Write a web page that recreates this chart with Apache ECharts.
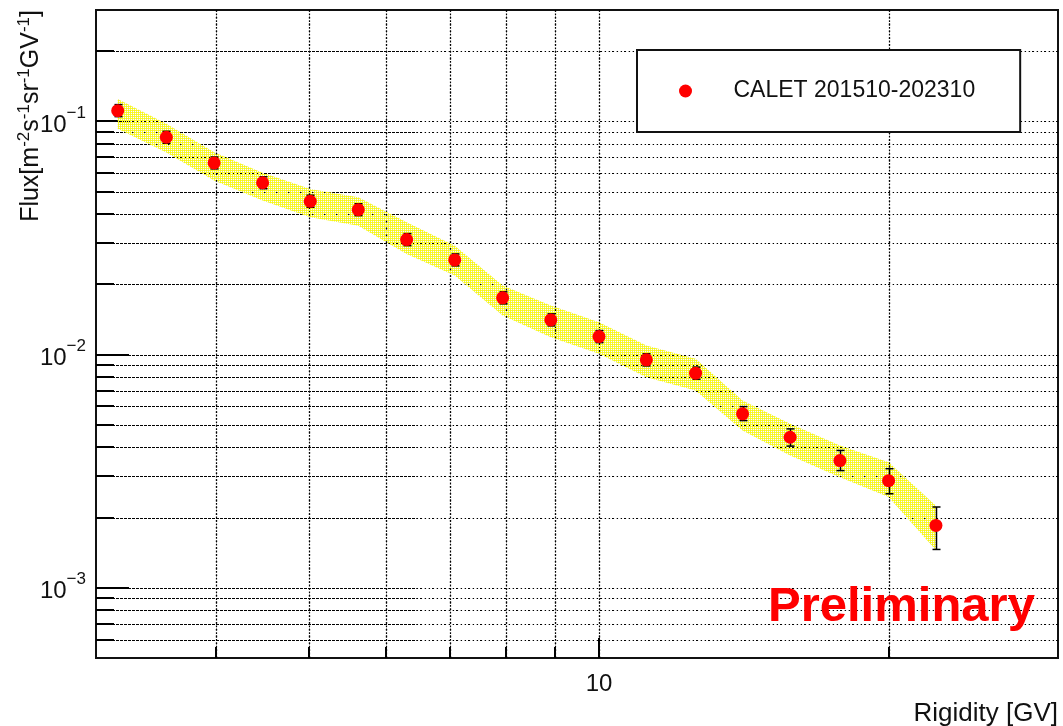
<!DOCTYPE html>
<html>
<head>
<meta charset="utf-8">
<script src="https://cdn.jsdelivr.net/npm/echarts@6/dist/echarts.min.js"></script>
<style>
  html, body { margin: 0; padding: 0; background: #fff; }
  #chart { width: 1063px; height: 726px; }
</style>
</head>
<body>
<div id="chart"></div>
<script>
// Rigidity bin centres [GV]
const rigidity = [3.16, 3.55, 3.98, 4.47, 5.01, 5.62, 6.31, 7.08, 7.94, 8.91, 10.0, 11.2, 12.6, 14.1, 15.8, 17.8, 20.0, 22.4];
// Flux [m^-2 s^-1 sr^-1 GV^-1]
const flux = [0.1111, 0.0854, 0.0663, 0.0545, 0.0454, 0.0418, 0.0311, 0.02545, 0.0175, 0.01408, 0.01194, 0.00949, 0.00832, 0.00557, 0.00442, 0.00351, 0.00288, 0.00185];
// statistical error bar ends
const statHigh = [0.1179, 0.0906, 0.0703, 0.0578, 0.0482, 0.0443, 0.0330, 0.0270, 0.01857, 0.01494, 0.01267, 0.01007, 0.00883, 0.00598, 0.00480, 0.00388, 0.00324, 0.00222];
const statLow = [0.1047, 0.0805, 0.0625, 0.0514, 0.0428, 0.0394, 0.0293, 0.0240, 0.01649, 0.01327, 0.01125, 0.00894, 0.00784, 0.00521, 0.00405, 0.00318, 0.00253, 0.00146];
// systematic uncertainty band edges
const sysHigh = [0.1247, 0.0977, 0.0736, 0.0601, 0.0513, 0.0472, 0.0369, 0.0293, 0.01976, 0.01622, 0.01375, 0.01093, 0.00959, 0.00635, 0.00505, 0.00407, 0.00345, 0.00225];
const sysLow = [0.0928, 0.0734, 0.0557, 0.0457, 0.0388, 0.0357, 0.0270, 0.0218, 0.01470, 0.01187, 0.01007, 0.00799, 0.00701, 0.00472, 0.00369, 0.00298, 0.00245, 0.00145];

// axis ranges and tick positions
const xRange = [3, 30];
const yRange = [5e-4, 0.3];
const xMajorTicks = [10];
const xMinorTicks = [4, 5, 6, 7, 8, 9, 20];
const yMajorTicks = [1e-3, 1e-2, 1e-1];
const yMinorTicks = [6e-4, 7e-4, 8e-4, 9e-4,
                     2e-3, 3e-3, 4e-3, 5e-3, 6e-3, 7e-3, 8e-3, 9e-3,
                     2e-2, 3e-2, 4e-2, 5e-2, 6e-2, 7e-2, 8e-2, 9e-2,
                     2e-1];

const seriesName = 'CALET 201510-202310';
const FONT = '"Liberation Sans", Arial, Helvetica, sans-serif';

// fine yellow hatch used for the systematic band (one open pixel per cell)
const hatch = document.createElement('canvas');
hatch.width = 2; hatch.height = 2;
const hctx = hatch.getContext('2d');
hctx.fillStyle = '#ffff00';
hctx.fillRect(0, 0, 1, 1);
hctx.fillStyle = '#efef55';
hctx.fillRect(1, 0, 1, 1);
hctx.fillRect(0, 1, 1, 1);

function isPow10(v) {
  const e = Math.log10(v);
  return Math.abs(e - Math.round(e)) < 1e-6;
}

// horizontal dotted grid line across the frame
function renderHGrid(params, api) {
  const cs = params.coordSys;
  const y = Math.round(api.coord([api.value(0), api.value(1)])[1]) + 0.5;
  const split = cs.x + cs.width / 3;
  return {
    type: 'group',
    children: [
      { type: 'line', shape: { x1: cs.x, y1: y, x2: split, y2: y },
        style: { stroke: '#000', lineWidth: 1, lineDash: [3, 1] } },
      { type: 'line', shape: { x1: split, y1: y, x2: cs.x + cs.width, y2: y },
        style: { stroke: '#000', lineWidth: 1.2, lineDash: [1.4, 2.6] } }
    ]
  };
}

// sparse dots of the horizontal grid that stay visible through the band
function renderHGridTop(params, api) {
  const cs = params.coordSys;
  const y = Math.round(api.coord([api.value(0), api.value(1)])[1]) + 0.5;
  return {
    type: 'line', shape: { x1: cs.x, y1: y, x2: cs.x + cs.width, y2: y },
    style: { stroke: '#000', lineWidth: 1.2, lineDash: [1.4, 10.6] }
  };
}

// vertical dotted grid line across the frame
function renderVGrid(params, api) {
  const cs = params.coordSys;
  const x = Math.round(api.coord([api.value(0), api.value(1)])[0]) + 0.5;
  return {
    type: 'line', shape: { x1: x, y1: cs.y, x2: x, y2: cs.y + cs.height },
    style: { stroke: '#000', lineWidth: 1.2, lineDash: [1.8, 1.6] }
  };
}

function renderVGridTop(params, api) {
  const cs = params.coordSys;
  const x = Math.round(api.coord([api.value(0), api.value(1)])[0]) + 0.5;
  return {
    type: 'line', shape: { x1: x, y1: cs.y, x2: x, y2: cs.y + cs.height },
    style: { stroke: '#000', lineWidth: 1.2, lineDash: [1.8, 5.0] }
  };
}

function yTickRenderer(len) {
  return function (params, api) {
    const cs = params.coordSys;
    const y = Math.round(api.coord([api.value(0), api.value(1)])[1]);
    return { type: 'line', shape: { x1: cs.x, y1: y, x2: cs.x + len, y2: y },
             style: { stroke: '#000', lineWidth: 2 } };
  };
}

function xTickRenderer(len) {
  return function (params, api) {
    const cs = params.coordSys;
    const x = Math.round(api.coord([api.value(0), api.value(1)])[0]);
    const yb = cs.y + cs.height;
    return { type: 'line', shape: { x1: x, y1: yb, x2: x, y2: yb - len },
             style: { stroke: '#000', lineWidth: 2 } };
  };
}

function guide(data, renderItem, z) {
  return { type: 'custom', data: data, renderItem: renderItem, z: z,
           silent: true, clip: false, animation: false };
}

// systematic band drawn as one polygon through all bins
function renderBand(params, api) {
  if (params.dataIndexInside !== 0) return null;
  const n = rigidity.length;
  const upper = [], lower = [];
  for (let i = 0; i < n; i++) {
    upper.push(api.coord([api.value(0, i), api.value(2, i)]));
    lower.push(api.coord([api.value(0, i), api.value(1, i)]));
  }
  return {
    type: 'polygon',
    shape: { points: upper.concat(lower.reverse()) },
    style: { fill: { image: hatch, repeat: 'repeat' } }
  };
}

// statistical error bars with end caps
function renderErr(params, api) {
  const lo = api.coord([api.value(0), api.value(1)]);
  const hi = api.coord([api.value(0), api.value(2)]);
  const x = Math.round(lo[0]) + 0.5;
  const cap = 4;
  const st = { stroke: '#000', lineWidth: 1.5 };
  return {
    type: 'group',
    children: [
      { type: 'line', shape: { x1: x, y1: lo[1], x2: x, y2: hi[1] }, style: st },
      { type: 'line', shape: { x1: x - cap, y1: lo[1], x2: x + cap, y2: lo[1] }, style: st },
      { type: 'line', shape: { x1: x - cap, y1: hi[1], x2: x + cap, y2: hi[1] }, style: st }
    ]
  };
}

const yGridData = yMajorTicks.concat(yMinorTicks).map(function (v) { return [xRange[0], v]; });
const xGridData = xMajorTicks.concat(xMinorTicks).map(function (v) { return [v, yRange[0]]; });

const chart = echarts.init(document.getElementById('chart'), null, { renderer: 'canvas' });

const option = {
  animation: false,
  backgroundColor: '#fff',
  grid: {
    left: 96, right: 5, top: 10, bottom: 68,
    show: true, borderColor: '#111', borderWidth: 2, backgroundColor: 'transparent',
    containLabel: false, outerBoundsMode: 'none'
  },
  legend: {
    left: 637, top: 50,
    padding: [29, 45, 29, 42],
    itemWidth: 86, itemHeight: 13,
    borderColor: '#111', borderWidth: 2, backgroundColor: '#fff',
    textStyle: { fontSize: 23, lineHeight: 24, color: '#111', fontFamily: FONT },
    data: [{ name: seriesName, icon: 'circle' }],
    selectedMode: false
  },
  xAxis: {
    type: 'log', logBase: 10, min: xRange[0], max: xRange[1],
    name: 'Rigidity [GV]', nameLocation: 'end', nameGap: 0, nameMoveOverlap: false,
    nameTextStyle: { fontSize: 26, color: '#111', fontFamily: FONT, align: 'right', verticalAlign: 'top', lineHeight: 26, padding: [43, 0, 0, 0] },
    axisLine: { show: false }, axisTick: { show: false }, splitLine: { show: false },
    axisLabel: {
      fontSize: 24, color: '#111', fontFamily: FONT, margin: 14,
      showMinLabel: true, showMaxLabel: true,
      formatter: function (v) { return isPow10(v) ? String(Math.round(v)) : ''; }
    }
  },
  yAxis: {
    type: 'log', logBase: 10, min: yRange[0], max: yRange[1],
    name: '{n|Flux[m}{s|-2}{n|s}{s|-1}{n|sr}{s|-1}{n|GV}{s|-1}{n|]}',
    nameLocation: 'end', nameGap: 0, nameRotate: 90, nameMoveOverlap: false,
    nameTextStyle: {
      align: 'right', verticalAlign: 'bottom', padding: [0, 0, 50, 0],
      rich: {
        n: { fontSize: 25, lineHeight: 30, color: '#111', fontFamily: FONT },
        s: { fontSize: 17, lineHeight: 17, color: '#111', fontFamily: FONT, verticalAlign: 'top' }
      }
    },
    axisLine: { show: false }, axisTick: { show: false }, splitLine: { show: false },
    axisLabel: {
      margin: 10, padding: [8, 0, 0, 0],
      showMinLabel: true, showMaxLabel: true,
      formatter: function (v) {
        if (!isPow10(v)) return '';
        const e = Math.round(Math.log10(v));
        return '{b|10}{s|' + (e < 0 ? '\u2212' + (-e) : e) + '}';
      },
      rich: {
        b: { fontSize: 24, lineHeight: 41, color: '#111', fontFamily: FONT },
        s: { fontSize: 17, lineHeight: 17, color: '#111', fontFamily: FONT, verticalAlign: 'top' }
      }
    }
  },
  series: [
    guide(yGridData, renderHGrid, 1),
    guide(xGridData, renderVGrid, 1),
    guide(yMajorTicks.map(function (v) { return [xRange[0], v]; }), yTickRenderer(33), 1),
    guide(yMinorTicks.map(function (v) { return [xRange[0], v]; }), yTickRenderer(18), 1),
    guide(xMajorTicks.map(function (v) { return [v, yRange[0]]; }), xTickRenderer(20), 1),
    guide(xMinorTicks.map(function (v) { return [v, yRange[0]]; }), xTickRenderer(11), 1),
    {
      type: 'custom', name: 'sys', z: 2, silent: true, animation: false,
      data: rigidity.map(function (r, i) { return [r, sysLow[i], sysHigh[i]]; }),
      encode: { x: 0, y: [1, 2] },
      renderItem: renderBand
    },
    guide(yGridData, renderHGridTop, 3),
    guide(xGridData, renderVGridTop, 3),
    {
      type: 'custom', name: 'stat', z: 4, silent: true, animation: false,
      data: rigidity.map(function (r, i) { return [r, statLow[i], statHigh[i]]; }),
      encode: { x: 0, y: [1, 2] },
      renderItem: renderErr
    },
    {
      type: 'scatter', name: seriesName, z: 5, animation: false,
      symbol: 'circle', symbolSize: 13,
      itemStyle: { color: '#ff0000', opacity: 1 },
      data: rigidity.map(function (r, i) { return [r, flux[i]]; })
    }
  ],
  graphic: [
    {
      type: 'text', x: 768, y: 607, z: 10,
      style: { text: 'Preliminary', fill: '#ff0000', font: 'bold 49px ' + FONT, verticalAlign: 'middle', align: 'left' }
    }
  ]
};

chart.setOption(option);
</script>
</body>
</html>
